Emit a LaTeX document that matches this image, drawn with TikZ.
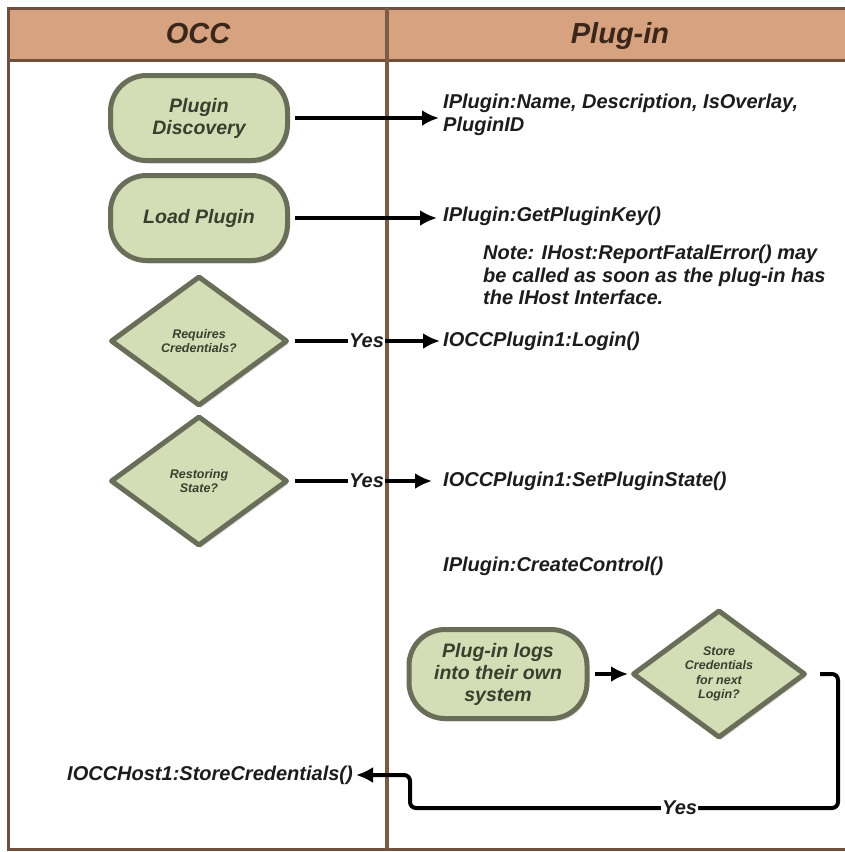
\documentclass[tikz,border=0pt]{standalone}
\usepackage{fontspec}
\setmainfont{Liberation Sans}
\usetikzlibrary{shapes.geometric,arrows.meta,shadows}

\definecolor{headfill}{RGB}{214,162,128}
\definecolor{framebrown}{RGB}{112,80,60}
\definecolor{laneline}{RGB}{125,92,70}
\definecolor{shapefill}{RGB}{213,221,183}
\definecolor{shapeedge}{RGB}{104,110,88}
\definecolor{shapetext}{RGB}{58,62,44}
\definecolor{headtext}{RGB}{60,38,26}
\definecolor{calltext}{RGB}{28,28,28}

\tikzset{
  softshadow/.style={drop shadow={opacity=0.25, shadow xshift=2pt, shadow yshift=-3pt}},
  terminal/.style={draw=shapeedge, line width=5pt, fill=shapefill, rounded corners=36pt,
    minimum width=177pt, minimum height=85pt, align=center, softshadow,
    font=\fontsize{19.5}{22}\selectfont\bfseries\itshape, text=shapetext},
  decision/.style={diamond, draw=shapeedge, line width=5pt, line join=round, fill=shapefill,
    minimum width=177pt, minimum height=130pt, inner sep=0pt, align=center, softshadow,
    font=\fontsize{12.5}{14.5}\selectfont\bfseries\itshape, text=shapetext},
  call/.style={anchor=west, align=left, inner sep=0pt,
    font=\fontsize{20}{22.5}\selectfont\bfseries\itshape, text=calltext},
  flow/.style={-{Latex[length=17pt,width=16pt]}, line width=4pt, black},
  yeslabel/.style={fill=white, inner sep=1pt, text=calltext,
    font=\fontsize{20}{22}\selectfont\bfseries\itshape},
  lanehead/.style={anchor=base, font=\fontsize{29}{32}\selectfont\bfseries\itshape, text=headtext},
}

\begin{document}
\begin{tikzpicture}[x=1pt,y=-1pt]
\path[use as bounding box, clip] (0,0) rectangle (845,852);

% swimlane frame and header band
\fill[white] (0,0) rectangle (845,852);
\fill[headfill] (8,8) rectangle (880,60);
\draw[framebrown, line width=3pt] (8,60) -- (880,60);
\draw[framebrown, line width=3pt] (8,8) rectangle (880,849);
\draw[laneline, line width=4pt] (387,8) -- (387,849);
\node[lanehead] (hOCC) at (198,43) {OCC};
\node[lanehead] (hPlug) at (620,43) {Plug-in};

% OCC lane steps
\node[terminal] (disc) at (199,118) {Plugin\\Discovery};
\node[terminal] (load) at (199,218) {Load Plugin};
\node[decision] (cred) at (199,341) {Requires\\Credentials?};
\node[decision] (rest) at (199,481) {Restoring\\State?};

% plug-in lane steps
\node[terminal, minimum width=178pt, minimum height=89pt] (logs) at (498,674) {Plug-in logs\\into their own\\system};
\node[decision, minimum width=173pt, minimum height=128pt] (store) at (719,674) {Store\\Credentials\\for next\\Login?};

% interface calls
\node[call] (tName) at (443,115) {IPlugin:Name, Description, IsOverlay,\\PluginID};
\node[call] (tKey) at (443,216) {IPlugin:GetPluginKey()};
\node[call] (tNote) at (483,275) {Note: IHost:ReportFatalError() may\\be called as soon as the plug-in has\\the IHost Interface.};
\node[call] (tLogin) at (443,341) {IOCCPlugin1:Login()};
\node[call] (tState) at (443,481) {IOCCPlugin1:SetPluginState()};
\node[call] (tCreate) at (443,566) {IPlugin:CreateControl()};
\node[call, anchor=east] (tStore) at (353,775) {IOCCHost1:StoreCredentials()};

% connectors
\draw[flow, shorten <=5pt, shorten >=4pt] (disc.east) -- (disc.east -| tName.west);
\draw[flow, shorten <=5pt, shorten >=6pt] (load.east) -- (load.east -| tKey.west);
\draw[flow, shorten <=5pt, shorten >=3pt] (cred.east) -- node[yeslabel] (yes1) {Yes} (cred.east -| tLogin.west);
\draw[flow, shorten <=5pt, shorten >=11pt] (rest.east) -- node[yeslabel] (yes2) {Yes} (rest.east -| tState.west);
\draw[flow, shorten <=5pt, shorten >=2pt] (logs.east) -- (store.west);

\coordinate (loopR) at (838,808);
\coordinate (loopL) at (410,808);
\draw[flow, rounded corners=6pt, shorten <=12pt, shorten >=3pt]
  (store.east) -| (loopR) -- node[yeslabel, pos=0.37] (yes3) {Yes} (loopL) |- (tStore.east);
\end{tikzpicture}
\end{document}
